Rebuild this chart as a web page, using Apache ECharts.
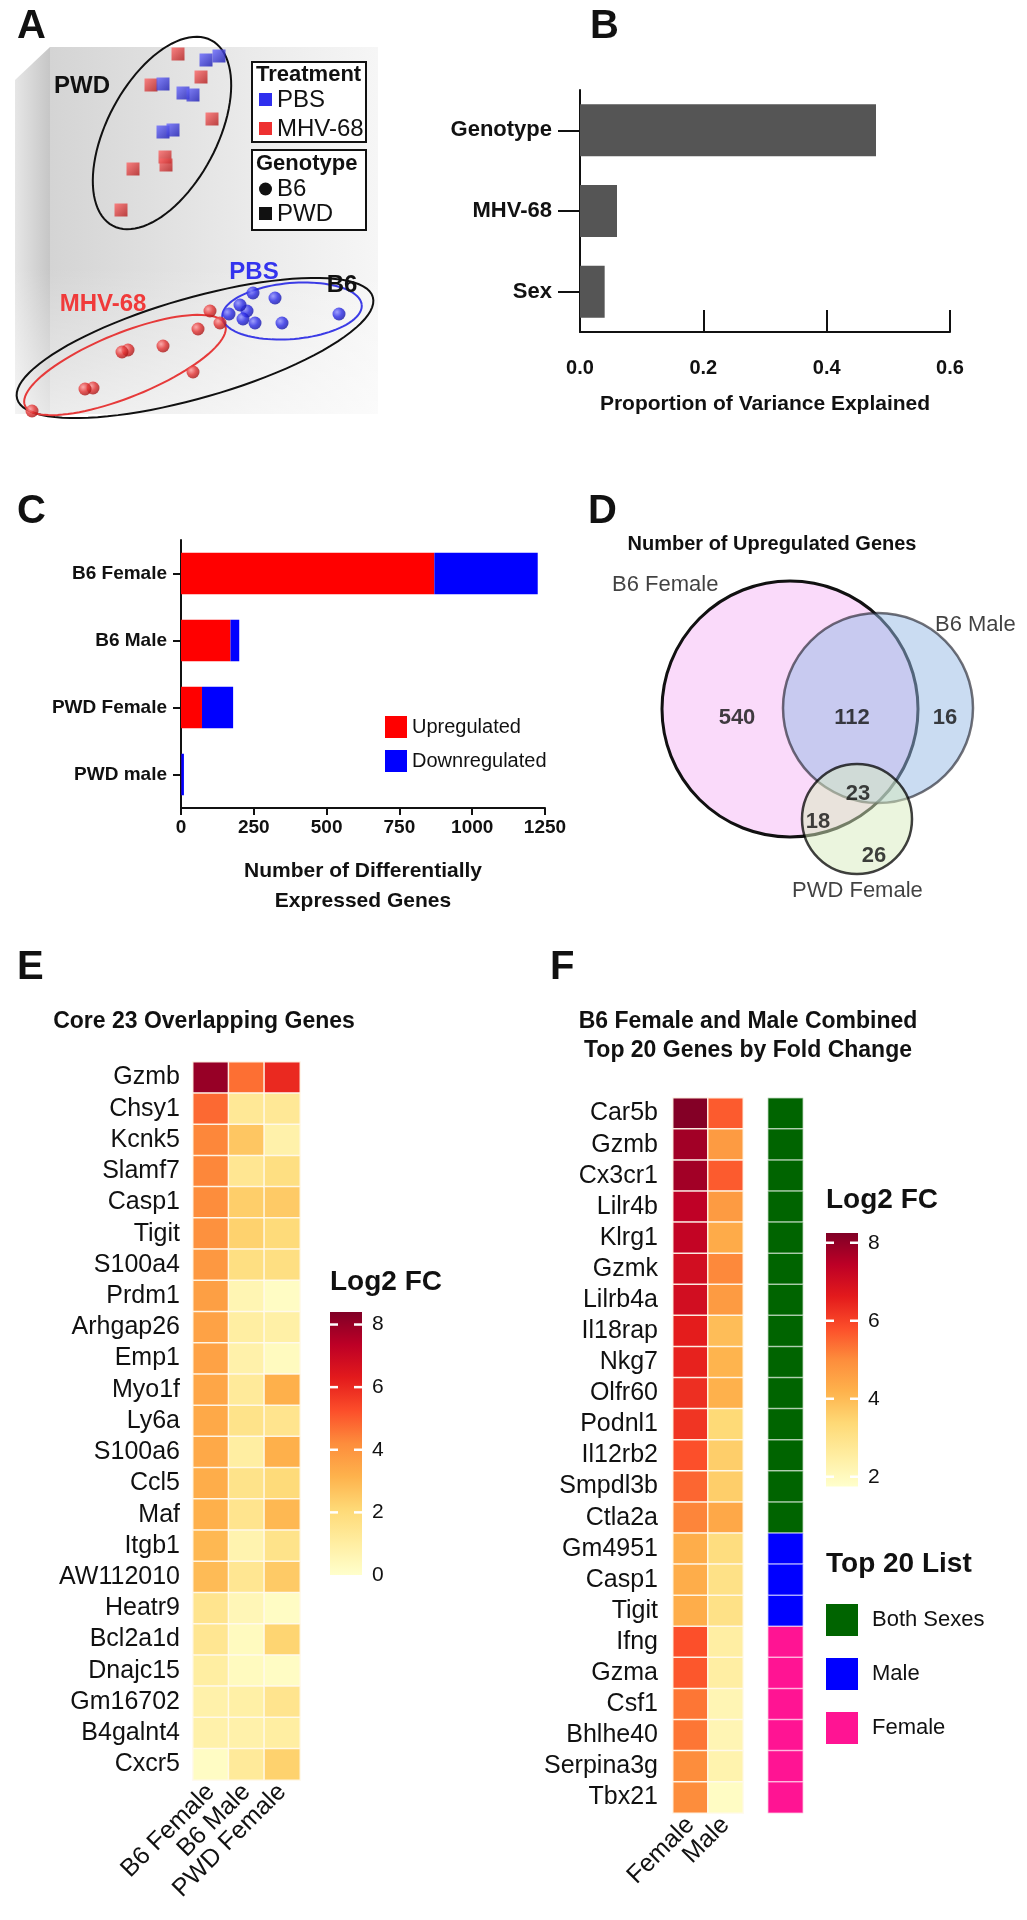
<!DOCTYPE html>
<html><head><meta charset="utf-8">
<script src="https://cdn.jsdelivr.net/npm/echarts@6/dist/echarts.min.js"></script>
<style>html,body{margin:0;padding:0;background:#fff}#c{width:1027px;height:1920px}</style>
</head><body><div id="c"></div>
<script>
const FONT = "'Liberation Sans', Arial, Helvetica, sans-serif";

// ---------- Panel A : PCA (PC1, PC2 arbitrary units) ----------
const pwdMHV = [[-2.2,17.6],[-4.9,14.5],[0.1,15.3],[1.2,11.1],[-3.5,7.3],[-3.4,6.5],[-6.7,6.1],[-7.9,2.0]];
const pwdPBS = [[0.6,17.0],[1.9,17.4],[-3.7,14.6],[-1.7,13.7],[-0.7,13.5],[-3.7,9.8],[-2.7,10.0]];
const b6PBS  = [[5.3,-6.3],[7.5,-6.8],[4.7,-8.1],[4.0,-7.5],[2.9,-8.4],[4.3,-8.9],[5.5,-9.3],[8.2,-9.3],[13.9,-8.4]];
const b6MHV  = [[1.0,-8.1],[2.0,-9.3],[-0.2,-9.9],[-3.7,-11.6],[-7.2,-12.0],[-7.8,-12.2],[-0.7,-14.2],[-10.7,-15.8],[-11.5,-15.9],[-16.8,-18.1]];
// ellipse: [centerX, centerY, semiMajor, semiMinor, angleDeg]
const ellipseParams = [[-3.8,9.7,10.5,5.5,62],[-0.5,-11.8,18.5,5.0,16],[-7.5,-13.5,10.8,3.2,22],[9.2,-8.1,7.0,2.8,5]];
const ellipseColors = ['#111111','#111111','#e63a3a','#3b3be6'];

// ---------- Panel B ----------
const bCats = ['Genotype','MHV-68','Sex'];
const bVals = [0.48,0.06,0.04];

// ---------- Panel C ----------
const cCats = ['B6 Female','B6 Male','PWD Female','PWD male'];
const cUp   = [870,170,72,1];
const cDown = [355,30,107,9];

// ---------- Panel D : Venn ----------
const vennNames   = ['B6 Female','B6 Male','PWD Female'];
const vennCircles = [[23.0,19.1,12.8],[31.8,19.2,9.5],[29.7,8.1,5.5]];
const vennFills   = ['#fadafa','rgba(150,185,230,0.5)','rgba(215,235,190,0.5)'];
const vennStrokes = ['#111111','rgba(20,20,30,0.6)','rgba(0,0,0,0.75)'];
const vennCounts  = [540,112,16,23,18,26];
const vennCountPos= [[17.7,18.2],[29.2,18.2],[38.5,18.2],[29.8,10.6],[25.8,7.8],[31.4,4.4]];
const vennNamePos = [[5.2,31.5],[37.5,27.5],[23.2,0.9]];

// ---------- Panel E ----------
const eGenes = ['Gzmb','Chsy1','Kcnk5','Slamf7','Casp1','Tigit','S100a4','Prdm1','Arhgap26','Emp1','Myo1f','Ly6a','S100a6','Ccl5','Maf','Itgb1','AW112010','Heatr9','Bcl2a1d','Dnajc15','Gm16702','B4galnt4','Cxcr5'];
const eCols  = ['B6 Female','B6 Male','PWD Female'];
const eB6F = [8.0,4.8,4.3,4.3,4.2,4.1,3.9,3.7,3.6,3.6,3.5,3.4,3.4,3.3,3.2,3.0,2.9,1.5,1.4,1.0,0.8,0.8,0.2];
const eB6M = [4.7,1.3,2.6,1.4,2.4,2.3,1.8,0.6,1.0,0.8,1.2,1.6,1.0,1.6,1.5,0.7,1.4,0.5,0.3,0.3,0.9,0.8,1.2];
const ePWD = [6.0,1.3,0.8,1.8,2.5,2.0,1.8,0.2,0.9,0.3,3.2,1.5,3.2,2.0,3.0,1.6,2.5,0.2,2.2,0.2,1.5,1.0,2.3];
const eTicks = [0,2,4,6,8];

// ---------- Panel F ----------
const fGenes = ['Car5b','Gzmb','Cx3cr1','Lilr4b','Klrg1','Gzmk','Lilrb4a','Il18rap','Nkg7','Olfr60','Podnl1','Il12rb2','Smpdl3b','Ctla2a','Gm4951','Casp1','Tigit','Ifng','Gzma','Csf1','Bhlhe40','Serpina3g','Tbx21'];
const fCols = ['Female','Male'];
const fFemale = [8.2,7.8,7.8,7.4,7.3,7.0,7.0,6.6,6.5,6.3,6.2,5.8,5.5,5.1,4.3,4.3,4.3,5.8,5.7,5.3,5.3,5.0,5.0];
const fMale   = [5.65,4.7,5.65,4.7,4.35,5.05,4.7,3.95,4.15,4.2,3.35,3.6,3.6,4.4,3.2,3.05,3.05,2.5,2.5,2.2,2.2,2.3,1.9];
const top20Names = ['Both Sexes','Male','Female'];
const top20Colors = ['#006400','#0000ff','#ff1493'];
const top20List = [0,0,0,0,0,0,0,0,0,0,0,0,0,0,1,1,1,2,2,2,2,2,2];
const fTicks = [2,4,6,8];

const YlOrRd = ['#ffffcc','#ffeda0','#fed976','#feb24c','#fd8d3c','#fc4e2a','#e31a1c','#bd0026','#800026'];
const E_MIN = 0, E_MAX = 8.4, F_MIN = 1.75, F_MAX = 8.25;

// ---------- build data ----------
const eData = [];
[eB6F,eB6M,ePWD].forEach((arr,ci)=>arr.forEach((v,ri)=>eData.push([ci,ri,v])));
const fData = [];
[fFemale,fMale].forEach((arr,ci)=>arr.forEach((v,ri)=>fData.push([ci,ri,v])));
const topData = top20List.map((v,ri)=>[0,ri,v]);

function grad(c1,c2){return new echarts.graphic.LinearGradient(0,0,1,1,[{offset:0,color:c1},{offset:1,color:c2}]);}
function rgrad(c1,c2,c3){return new echarts.graphic.RadialGradient(0.35,0.35,0.75,[{offset:0,color:c1},{offset:0.5,color:c2},{offset:1,color:c3}]);}

function colorbar(min,max,ticks){
  return function(params, api){
    const cs = params.coordSys;
    const yt = api.coord([0,max])[1], yb = api.coord([0,min])[1];
    const x0 = cs.x, x1 = cs.x + cs.width;
    const stops = YlOrRd.map((c,i)=>({offset:i/(YlOrRd.length-1),color:c}));
    const children = [{type:'rect',shape:{x:x0,y:yt,width:x1-x0,height:yb-yt},
      style:{fill:new echarts.graphic.LinearGradient(0,1,0,0,stops)}}];
    ticks.forEach(t=>{
      if (t<=min || t>=max) return;
      const y = api.coord([0,t])[1];
      children.push({type:'line',shape:{x1:x0,y1:y,x2:x0+8,y2:y},style:{stroke:'#fff',lineWidth:2.5}});
      children.push({type:'line',shape:{x1:x1-8,y1:y,x2:x1,y2:y},style:{stroke:'#fff',lineWidth:2.5}});
    });
    return {type:'group',children};
  };
}
const evenLabel = v => (Math.abs(v-Math.round(v))<1e-6 && Math.round(v)%2===0) ? String(Math.round(v)) : '';

function txt(text,x,y,size,weight,align,color){
  return {type:'text',z:10,style:{text,x,y,fill:color||'#111',font:(weight||'normal')+' '+size+'px '+FONT,
    textAlign:align||'left',textVerticalAlign:'middle'}};
}

const graphics = [
  // Panel A background box
  {type:'polygon',z:0,shape:{points:[[15,80],[50,47],[50,414],[15,414]]},
    style:{fill:new echarts.graphic.LinearGradient(0,0,1,0,[{offset:0,color:'#e6e6e6'},{offset:1,color:'#c6c6c6'}])}},
  {type:'rect',z:0,shape:{x:50,y:47,width:328,height:367},
    style:{fill:new echarts.graphic.LinearGradient(0,0,1,0,[{offset:0,color:'#d4d4d4'},{offset:0.6,color:'#eaeaea'},{offset:1,color:'#f6f6f6'}])}},
  {type:'rect',z:0,shape:{x:15,y:47,width:363,height:367},
    style:{fill:new echarts.graphic.LinearGradient(0,0,0,1,[{offset:0,color:'rgba(255,255,255,0)'},{offset:0.6,color:'rgba(255,255,255,0)'},{offset:1,color:'rgba(255,255,255,0.55)'}])}},
  // Panel A legends
  {type:'rect',z:10,shape:{x:252,y:62,width:114,height:80},style:{fill:'#fff',stroke:'#111',lineWidth:2}},
  txt('Treatment',256,75,22,'bold'),
  {type:'rect',z:10,shape:{x:259,y:93,width:13,height:13},style:{fill:'#2f2fee'}},
  txt('PBS',277,100,24),
  {type:'rect',z:10,shape:{x:259,y:122,width:13,height:13},style:{fill:'#ee3030'}},
  txt('MHV-68',277,129,24),
  {type:'rect',z:10,shape:{x:252,y:150,width:114,height:80},style:{fill:'#fff',stroke:'#111',lineWidth:2}},
  txt('Genotype',256,164,22,'bold'),
  {type:'circle',z:10,shape:{cx:265.5,cy:189,r:6.5},style:{fill:'#111'}},
  txt('B6',277,189,24),
  {type:'rect',z:10,shape:{x:259,y:207,width:13,height:13},style:{fill:'#111'}},
  txt('PWD',277,214,24),
  // Panel A cluster labels
  txt('PWD',82,86,24,'bold','center'),
  txt('PBS',254,272,24,'bold','center','#3434ee'),
  txt('MHV-68',103,304,24,'bold','center','#f03a3a'),
  txt('B6',342,285,24,'bold','center'),
  // Panel letters
  txt('A',17,27,40,'bold'), txt('B',590,27,40,'bold'), txt('C',17,512,40,'bold'),
  txt('D',588,512,40,'bold'), txt('E',17,968,40,'bold'), txt('F',550,968,40,'bold'),
  // Titles
  txt('Number of Upregulated Genes',772,544,20,'bold','center'),
  txt('Core 23 Overlapping Genes',204,1022,23,'bold','center'),
  txt('B6 Female and Male Combined',748,1022,23,'bold','center'),
  txt('Top 20 Genes by Fold Change',748,1051,23,'bold','center'),
  txt('Log2 FC',330,1282,28,'bold'),
  txt('Log2 FC',826,1200,28,'bold'),
  txt('Top 20 List',826,1564,28,'bold')
];
const legY0 = 1620, legStep = 54;
top20Names.forEach((n,i)=>{
  graphics.push({type:'rect',z:10,shape:{x:826,y:legY0+i*legStep-16,width:32,height:32},style:{fill:top20Colors[i]}});
  graphics.push(txt(n,872,legY0+i*legStep,22));
});

const catLabel = {fontFamily:FONT,fontSize:25,color:'#111'};

const option = {
  animation:false,
  textStyle:{fontFamily:FONT},
  grid:[
    {left:15,top:47,width:370,height:375},          // 0 A
    {left:580,top:90,width:370,height:242},         // 1 B
    {left:181,top:540,width:364,height:268},        // 2 C
    {left:560,top:560,width:460,height:340},        // 3 D
    {left:193,top:1062,width:107,height:718},       // 4 E
    {left:673,top:1098,width:70,height:715},        // 5 F
    {left:768,top:1098,width:35,height:715},        // 6 F top20
    {left:330,top:1312,width:32,height:263},        // 7 colorbar E
    {left:826,top:1233,width:32,height:253.5}       // 8 colorbar F
  ],
  xAxis:[
    {gridIndex:0,type:'value',min:-18.5,max:18.5,show:false},
    {gridIndex:1,type:'value',min:0,max:0.6,interval:0.2,
      axisLine:{show:true,lineStyle:{color:'#111',width:2}},
      axisTick:{show:true,inside:true,length:22,lineStyle:{color:'#111',width:2}},
      splitLine:{show:false},
      axisLabel:{fontFamily:FONT,fontSize:20,fontWeight:'bold',color:'#111',margin:26,formatter:v=>v.toFixed(1)},
      name:'Proportion of Variance Explained',nameLocation:'middle',nameGap:62,
      nameTextStyle:{fontFamily:FONT,fontSize:21,fontWeight:'bold',color:'#111'}},
    {gridIndex:2,type:'value',min:0,max:1250,interval:250,
      axisLine:{show:true,lineStyle:{color:'#111',width:2}},
      axisTick:{show:true,length:7,lineStyle:{color:'#111',width:2}},
      splitLine:{show:false},
      axisLabel:{fontFamily:FONT,fontSize:19,fontWeight:'bold',color:'#111',margin:10,formatter:v=>String(v)},
      name:'Number of Differentially\nExpressed Genes',nameLocation:'middle',nameGap:48,
      nameTextStyle:{fontFamily:FONT,fontSize:21,fontWeight:'bold',color:'#111',lineHeight:30}},
    {gridIndex:3,type:'value',min:0,max:46,show:false},
    {gridIndex:4,type:'category',data:eCols,position:'bottom',axisLine:{show:false},axisTick:{show:false},
      axisLabel:Object.assign({rotate:45,interval:0,margin:8},catLabel)},
    {gridIndex:5,type:'category',data:fCols,position:'bottom',axisLine:{show:false},axisTick:{show:false},
      axisLabel:Object.assign({rotate:45,interval:0,margin:8},catLabel)},
    {gridIndex:6,type:'category',data:['Top 20 List'],show:false},
    {gridIndex:7,type:'value',min:0,max:1,show:false},
    {gridIndex:8,type:'value',min:0,max:1,show:false}
  ],
  yAxis:[
    {gridIndex:0,type:'value',min:-19.2,max:18.3,show:false},
    {gridIndex:1,type:'category',data:bCats,inverse:true,
      axisLine:{show:true,lineStyle:{color:'#111',width:2}},
      axisTick:{show:true,alignWithLabel:true,length:22,lineStyle:{color:'#111',width:2}},
      axisLabel:{fontFamily:FONT,fontSize:22,fontWeight:'bold',color:'#111',margin:28}},
    {gridIndex:2,type:'category',data:cCats,inverse:true,
      axisLine:{show:true,lineStyle:{color:'#111',width:2}},
      axisTick:{show:true,alignWithLabel:true,length:8,lineStyle:{color:'#111',width:2}},
      axisLabel:{fontFamily:FONT,fontSize:19,fontWeight:'bold',color:'#111',margin:14}},
    {gridIndex:3,type:'value',min:0,max:34,show:false},
    {gridIndex:4,type:'category',data:eGenes,inverse:true,axisLine:{show:false},axisTick:{show:false},
      axisLabel:Object.assign({interval:0,margin:13},catLabel)},
    {gridIndex:5,type:'category',data:fGenes,inverse:true,axisLine:{show:false},axisTick:{show:false},
      axisLabel:Object.assign({interval:0,margin:15},catLabel)},
    {gridIndex:6,type:'category',data:fGenes,inverse:true,show:false},
    {gridIndex:7,type:'value',min:E_MIN,max:E_MAX,position:'right',axisLine:{show:false},axisTick:{show:false},splitLine:{show:false},
      axisLabel:{fontFamily:FONT,fontSize:21,color:'#111',margin:10,formatter:evenLabel,showMinLabel:true,showMaxLabel:true}},
    {gridIndex:8,type:'value',min:F_MIN,max:F_MAX,position:'right',axisLine:{show:false},axisTick:{show:false},splitLine:{show:false},
      axisLabel:{fontFamily:FONT,fontSize:21,color:'#111',margin:10,formatter:evenLabel,showMinLabel:true,showMaxLabel:true}}
  ],
  visualMap:[
    {type:'continuous',seriesIndex:11,min:E_MIN,max:E_MAX,inRange:{color:YlOrRd},show:false},
    {type:'continuous',seriesIndex:12,min:F_MIN,max:F_MAX,inRange:{color:YlOrRd},show:false},
    {type:'piecewise',seriesIndex:13,show:false,
      pieces:top20Names.map((n,i)=>({value:i,label:n,color:top20Colors[i]}))}
  ],
  legend:{data:['Upregulated','Downregulated'],orient:'vertical',left:380,top:711,itemWidth:22,itemHeight:22,itemGap:12,
    icon:'rect',textStyle:{fontFamily:FONT,fontSize:20,color:'#111'},selectedMode:false},
  series:[
    {type:'scatter',xAxisIndex:0,yAxisIndex:0,data:pwdMHV,symbol:'rect',symbolSize:13,z:4,
      itemStyle:{color:grad('#ff6a6a','#b01818')}},
    {type:'scatter',xAxisIndex:0,yAxisIndex:0,data:pwdPBS,symbol:'rect',symbolSize:13,z:4,
      itemStyle:{color:grad('#6a6aff','#1818b0')}},
    {type:'scatter',xAxisIndex:0,yAxisIndex:0,data:b6PBS,symbol:'circle',symbolSize:13,z:4,
      itemStyle:{color:rgrad('#8c8cff','#2a2ae6','#10109a')}},
    {type:'scatter',xAxisIndex:0,yAxisIndex:0,data:b6MHV,symbol:'circle',symbolSize:13,z:4,
      itemStyle:{color:rgrad('#ff9a9a','#e23030','#9a1010')}},
    {type:'custom',xAxisIndex:0,yAxisIndex:0,data:ellipseParams,z:3,silent:true,
      encode:{x:0,y:1},
      renderItem:function(params,api){
        const cx=api.value(0),cy=api.value(1),a=api.value(2),b=api.value(3),ang=api.value(4)*Math.PI/180;
        const pts=[];
        for(let i=0;i<=96;i++){const t=i/96*2*Math.PI;
          pts.push(api.coord([cx+a*Math.cos(ang)*Math.cos(t)-b*Math.sin(ang)*Math.sin(t),
                              cy+a*Math.sin(ang)*Math.cos(t)+b*Math.cos(ang)*Math.sin(t)]));}
        return {type:'polyline',shape:{points:pts},style:{stroke:ellipseColors[params.dataIndex],lineWidth:2,fill:null}};
      }},
    {type:'bar',xAxisIndex:1,yAxisIndex:1,data:bVals,barWidth:52,itemStyle:{color:'#555555'},silent:true},
    {type:'bar',name:'Upregulated',xAxisIndex:2,yAxisIndex:2,stack:'c',data:cUp,barWidth:'62%',itemStyle:{color:'#ff0000'},silent:true},
    {type:'bar',name:'Downregulated',xAxisIndex:2,yAxisIndex:2,stack:'c',data:cDown,barWidth:'62%',itemStyle:{color:'#0000ff'},silent:true},
    {type:'custom',xAxisIndex:3,yAxisIndex:3,data:vennCircles,z:2,silent:true,encode:{x:0,y:1},
      renderItem:function(params,api){
        const c=api.coord([api.value(0),api.value(1)]);
        const r=api.size([api.value(2),0])[0];
        const i=params.dataIndex;
        return {type:'circle',shape:{cx:c[0],cy:c[1],r:r},
          style:{fill:vennFills[i],stroke:vennStrokes[i],lineWidth:i===0?3:2.5}};
      }},
    {type:'scatter',xAxisIndex:3,yAxisIndex:3,symbolSize:1,itemStyle:{color:'rgba(0,0,0,0)'},z:5,silent:true,
      data:vennCounts.map((c,i)=>({value:vennCountPos[i],name:String(c)})),
      label:{show:true,position:'inside',formatter:'{b}',fontFamily:FONT,fontSize:22,fontWeight:'bold',color:'#111'}},
    {type:'scatter',xAxisIndex:3,yAxisIndex:3,symbolSize:1,itemStyle:{color:'rgba(0,0,0,0)'},z:5,silent:true,
      data:vennNames.map((n,i)=>({value:vennNamePos[i],name:n})),
      label:{show:true,position:'inside',align:'left',formatter:'{b}',fontFamily:FONT,fontSize:22,color:'#111'}},
    {type:'heatmap',xAxisIndex:4,yAxisIndex:4,data:eData,silent:true,
      itemStyle:{borderColor:'rgba(255,250,238,0.9)',borderWidth:1.5},emphasis:{disabled:true}},
    {type:'heatmap',xAxisIndex:5,yAxisIndex:5,data:fData,silent:true,
      itemStyle:{borderColor:'rgba(255,250,238,0.9)',borderWidth:1.5},emphasis:{disabled:true}},
    {type:'heatmap',xAxisIndex:6,yAxisIndex:6,data:topData,silent:true,
      itemStyle:{borderColor:'rgba(255,255,255,0.6)',borderWidth:1.5},emphasis:{disabled:true}},
    {type:'custom',xAxisIndex:7,yAxisIndex:7,data:[[0,E_MIN]],silent:true,renderItem:colorbar(E_MIN,E_MAX,eTicks)},
    {type:'custom',xAxisIndex:8,yAxisIndex:8,data:[[0,F_MIN]],silent:true,renderItem:colorbar(F_MIN,F_MAX,fTicks)}
  ],
  graphic:graphics
};
const chart = echarts.init(document.getElementById('c'));
chart.setOption(option);
</script></body></html>
